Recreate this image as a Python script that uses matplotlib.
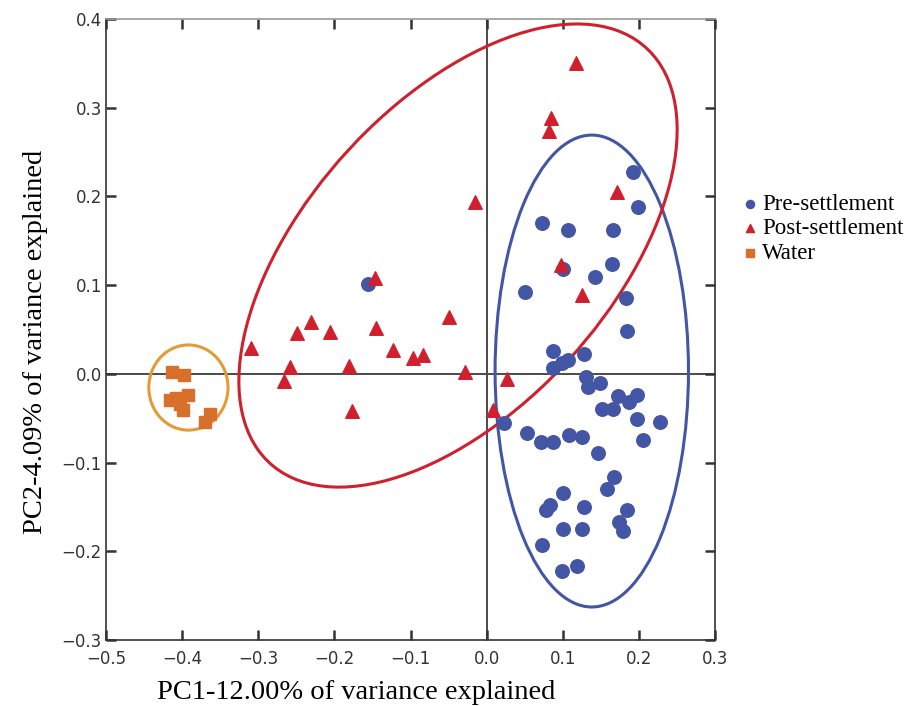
import numpy as np
import matplotlib.pyplot as plt
from matplotlib.patches import Ellipse

# PC scores
pre_x = [0.192, 0.1985, 0.0724, 0.1074, 0.1666, 0.1644, 0.100, 0.1424, 0.0505, 0.1828,
         0.1841, 0.0877, 0.128, 0.1074, 0.0987, 0.0869, 0.1306, 0.149, 0.1337, 0.1731,
         0.1972, 0.1871, 0.1512, 0.1665, 0.1972, 0.2279, 0.0229, 0.0527, 0.2059, 0.0715,
         0.0877, 0.1087, 0.1258, 0.1468, 0.1674, 0.1578, 0.1008, 0.0833, 0.0781, 0.128,
         0.1841, 0.1744, 0.1788, 0.100, 0.125, 0.0732, 0.1184, 0.0995, -0.1558]
pre_y = [0.2279, 0.1884, 0.1704, 0.1621, 0.1621, 0.1238, 0.1178, 0.1095, 0.0926, 0.0851,
         0.0486, 0.0255, 0.022, 0.0156, 0.0118, 0.0062, -0.0033, -0.0107, -0.0152, -0.0247,
         -0.0239, -0.0315, -0.040, -0.0397, -0.051, -0.054, -0.0551, -0.0671, -0.0746, -0.0772,
         -0.0765, -0.0693, -0.0709, -0.089, -0.116, -0.1299, -0.1347, -0.148, -0.1535, -0.1498,
         -0.1535, -0.1667, -0.1769, -0.1753, -0.1753, -0.193, -0.2167, -0.222, 0.1013]

post_x = [0.1175, 0.0846, 0.082, 0.1715, -0.0153, 0.0979, 0.1254, -0.1465, -0.3096, -0.2495,
          -0.2302, -0.2058, -0.1453, -0.1234, -0.0971, -0.0832, -0.049, -0.2583, -0.2658, -0.1804,
          -0.1769, -0.028, 0.0272, 0.0088]
post_y = [0.350, 0.289, 0.2735, 0.205, 0.1935, 0.1227, 0.0888, 0.1077, 0.0294, 0.0457,
          0.0587, 0.0475, 0.0513, 0.0268, 0.0175, 0.0212, 0.0644, 0.008, -0.0081, 0.0088,
          -0.0416, 0.0024, -0.0062, -0.0408]

water_x = [-0.413, -0.397, -0.416, -0.403, -0.392, -0.399, -0.363, -0.370, -0.408]
water_y = [0.0024, -0.0014, -0.0296, -0.034, -0.024, -0.041, -0.045, -0.054, -0.027]

# group ellipses: centre, width, height, angle
ell_pre = ((0.1381, 0.0032), 0.254, 0.532, 0)
ell_post = ((-0.0376, 0.1334), 0.684, 0.369, 39.9)
ell_water = ((-0.3917, -0.0154), 0.104, 0.096, 0)

blue = '#4355A5'
red = '#D0202E'
orange = '#D8702C'


def fmt(v, pos):
    s = f'{v:.1f}'
    if s == '-0.0':
        s = '0.0'
    return s.replace('-', '\u2212')


fig = plt.figure(figsize=(9.08, 7.06), dpi=100)
ax = fig.add_axes([0.1167, 0.0935, 0.6708, 0.8795])

ax.axhline(0, color='#4a4a4a', lw=1.4, zorder=1)
ax.axvline(0, color='#4a4a4a', lw=1.4, zorder=1)

ax.scatter(pre_x, pre_y, s=95, marker='o', color=blue, zorder=3, label='Pre-settlement')
ax.scatter(post_x, post_y, s=95, marker='^', color=red, zorder=3, label='Post-settlement')
ax.scatter(water_x, water_y, s=85, marker='s', color=orange, zorder=3, label='Water')

for (c, w, h, a), col in [(ell_pre, blue), (ell_post, red), (ell_water, '#E39B36')]:
    ax.add_patch(Ellipse(c, w, h, angle=a, fill=False, edgecolor=col, lw=2.2, zorder=2))

ax.set_xlim(-0.5, 0.3)
ax.set_ylim(-0.3, 0.4)
ax.set_xticks(np.arange(-0.5, 0.31, 0.1))
ax.set_yticks(np.arange(-0.3, 0.41, 0.1))
ax.xaxis.set_major_formatter(plt.FuncFormatter(fmt))
ax.yaxis.set_major_formatter(plt.FuncFormatter(fmt))
ax.tick_params(direction='in', length=7, width=1.8, top=True, right=True,
               labelsize=12, colors='#333333')
ax.tick_params(axis='x', pad=7)
ax.tick_params(axis='y', pad=3)
for s in ax.spines.values():
    s.set_color('#333333')
    s.set_linewidth(1.2)
ax.spines['top'].set_color('#999999')

ax.set_xlabel('PC1-12.00% of variance explained', family='Liberation Serif', fontsize=20.5,
              labelpad=9, x=0.41)
ax.set_ylabel('PC2-4.09% of variance explained', family='Liberation Serif', fontsize=20.5,
              labelpad=10, y=0.48)

ax.legend(loc='center left', bbox_to_anchor=(1.043, 0.662), frameon=False, markerscale=0.6,
          handlelength=0.8, handletextpad=0.1, labelspacing=0.17, borderaxespad=0, borderpad=0,
          prop={'family': 'Liberation Serif', 'size': 16.5})

fig.savefig('out.png', dpi=100)
